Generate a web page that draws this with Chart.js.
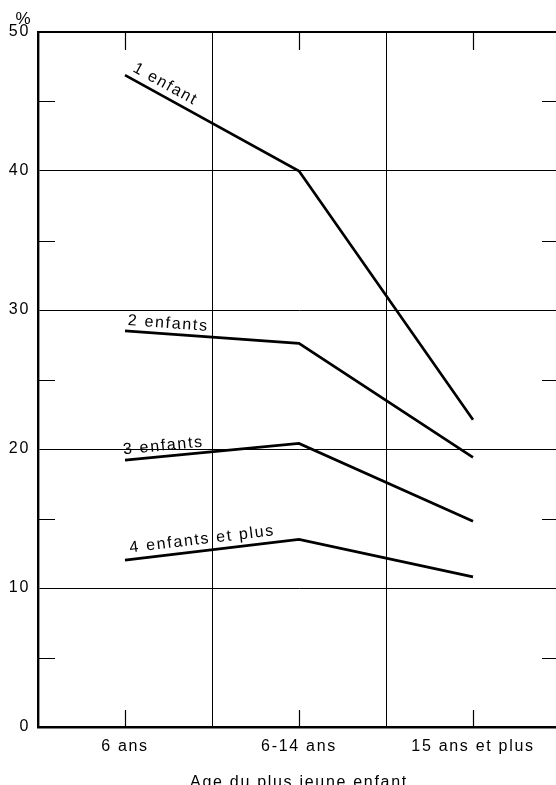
<!DOCTYPE html>
<html>
<head>
<meta charset="utf-8">
<script src="https://cdn.jsdelivr.net/npm/chart.js"></script>
<style>
  html, body { margin: 0; padding: 0; background: #fff; overflow: hidden; }
  .chart-parent { width: 556px; height: 785px; overflow: hidden; }
  canvas { display: block; }
</style>
</head>
<body>
<div class="chart-parent">
  <canvas id="myChart" width="562" height="792"></canvas>
</div>
<script>
// age of the youngest child
const ages = ["6 ans", "6-14 ans", "15 ans et plus"];
// % per number of children
const unEnfant = [46.9, 40.0, 22.1];
const deuxEnfants = [28.5, 27.6, 19.4];
const troisEnfants = [19.2, 20.4, 14.8];
const quatreEnfants = [12.0, 13.5, 10.8];
const seriesNames = ["1 enfant", "2 enfants", "3 enfants", "4 enfants et plus"];
const yMin = 0;
const yMax = 50;
const yStep = 5;

const FONT = "'Liberation Sans', Arial, Helvetica, sans-serif";
const SPACING = "1.7px";

// where each series label sits: along the first segment / above it
const labelPos = [
  { along: 4, up: 7 },
  { along: 2, up: 6 },
  { along: -1, up: 6 },
  { along: 6, up: 7 }
];

const spacingPlugin = {
  id: "spacing",
  beforeUpdate(chart) { chart.ctx.letterSpacing = SPACING; },
  beforeDraw(chart) { chart.ctx.letterSpacing = SPACING; }
};

const extrasPlugin = {
  id: "extras",
  afterDraw(chart) {
    const ctx = chart.ctx;
    const x = chart.scales.x;
    const y = chart.scales.y;
    const area = chart.chartArea;
    ctx.save();
    ctx.letterSpacing = SPACING;
    ctx.strokeStyle = "#000";

    // top frame line
    ctx.lineWidth = 2;
    ctx.beginPath();
    ctx.moveTo(area.left - 1, area.top);
    ctx.lineTo(area.right, area.top);
    ctx.stroke();

    // short inward ticks
    ctx.lineWidth = 1.2;
    ctx.beginPath();
    for (let v = yMin + yStep; v < yMax; v += 2 * yStep) {
      const py = Math.round(y.getPixelForValue(v)) + 0.5;
      ctx.moveTo(area.left, py);
      ctx.lineTo(area.left + 17, py);
      ctx.moveTo(area.right - 18, py);
      ctx.lineTo(area.right, py);
    }
    ages.forEach((a, i) => {
      const px = Math.round(x.getPixelForValue(i)) + 0.5;
      ctx.moveTo(px, area.bottom);
      ctx.lineTo(px, area.bottom - 17);
      ctx.moveTo(px, area.top);
      ctx.lineTo(px, area.top + 18);
    });
    ctx.stroke();

    // % unit
    ctx.fillStyle = "#000";
    ctx.font = "17px " + FONT;
    ctx.letterSpacing = "0px";
    ctx.textAlign = "center";
    ctx.textBaseline = "middle";
    ctx.fillText("%", 23, 19);
    ctx.letterSpacing = SPACING;
    ctx.font = "16px " + FONT;

    // series labels along the lines
    ctx.textAlign = "left";
    ctx.textBaseline = "alphabetic";
    chart.data.datasets.forEach((ds, i) => {
      const pts = chart.getDatasetMeta(i).data;
      const p0 = pts[0], p1 = pts[1];
      const ang = Math.atan2(p1.y - p0.y, p1.x - p0.x);
      const pos = labelPos[i];
      ctx.save();
      ctx.translate(p0.x, p0.y);
      ctx.rotate(ang);
      ctx.fillText(ds.label, pos.along, -pos.up);
      ctx.restore();
    });
    ctx.restore();
  }
};

const ctx = document.getElementById("myChart");

new Chart(ctx, {
  type: "line",
  data: {
    labels: ages,
    datasets: [unEnfant, deuxEnfants, troisEnfants, quatreEnfants].map((d, i) => ({
      label: seriesNames[i],
      data: d,
      borderColor: "#000",
      borderWidth: 2.7,
      pointRadius: 0,
      tension: 0,
      fill: false
    }))
  },
  options: {
    responsive: false,
    animation: false,
    events: [],
    layout: { padding: { top: 32, right: 2, left: 0, bottom: 0 } },
    plugins: {
      legend: { display: false },
      tooltip: { enabled: false }
    },
    scales: {
      x: {
        offset: true,
        grid: { offset: true, color: "#000", lineWidth: 1, drawTicks: false },
        border: { color: "#000", width: 2.4 },
        ticks: {
          color: "#000",
          padding: 10,
          maxRotation: 0,
          autoSkip: false,
          font: { family: FONT, size: 16 }
        },
        title: {
          display: true,
          text: "Age du plus jeune enfant",
          color: "#000",
          padding: 0,
          font: { family: FONT, size: 16 }
        },
        afterFit(scale) { scale.height = 65; }
      },
      y: {
        min: yMin,
        max: yMax,
        grid: {
          drawTicks: false,
          lineWidth: 1,
          color: (c) => (c.tick && c.tick.value % 10 === 0 ? "#000" : "rgba(0,0,0,0)")
        },
        border: { color: "#000", width: 2.4 },
        ticks: {
          stepSize: yStep,
          color: "#000",
          padding: 8,
          font: { family: FONT, size: 16 },
          callback: (v) => (v % 10 === 0 ? v : "")
        },
        afterFit(scale) { scale.width = 38; }
      }
    }
  },
  plugins: [spacingPlugin, extrasPlugin]
});
</script>
</body>
</html>
